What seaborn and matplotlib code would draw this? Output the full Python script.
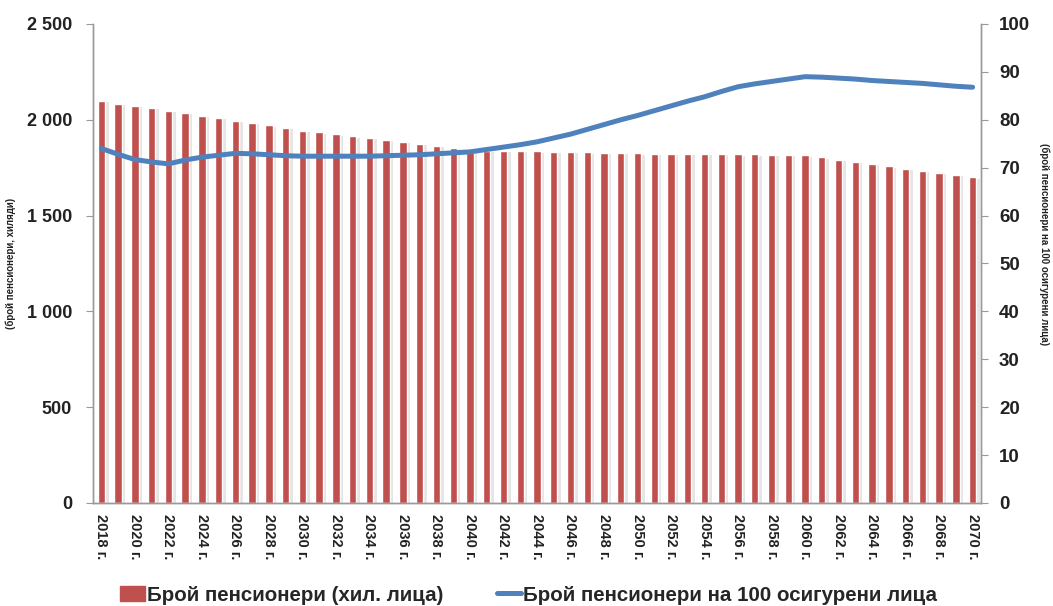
import matplotlib
matplotlib.use("Agg")
import matplotlib.pyplot as plt
import matplotlib.patheffects as pe
from matplotlib.lines import Line2D
from matplotlib.patches import Patch
import seaborn as sns
import numpy as np
import pandas as pd

years = list(range(2018, 2071))
pensioners = [2098, 2084, 2072, 2061, 2047, 2035, 2021, 2009, 1995, 1983,
              1971, 1957, 1943, 1935, 1924, 1914, 1905, 1895, 1884, 1874,
              1863, 1854, 1846, 1839, 1839, 1837, 1835, 1834, 1832, 1830,
              1828, 1827, 1826, 1824, 1824, 1822, 1822, 1822, 1820, 1819,
              1817, 1817, 1815, 1804, 1792, 1780, 1769, 1757, 1745, 1733,
              1722, 1712, 1700]
per_100_insured = [74.0, 72.8, 71.7, 71.2, 70.8, 71.6, 72.2, 72.6, 73.0, 72.9,
                   72.7, 72.5, 72.4, 72.4, 72.4, 72.4, 72.4, 72.5, 72.6, 72.7,
                   72.9, 73.1, 73.3, 73.8, 74.3, 74.8, 75.4, 76.2, 77.0, 78.0,
                   79.0, 80.0, 80.9, 81.9, 82.9, 83.9, 84.8, 85.9, 86.9, 87.5,
                   88.0, 88.5, 89.0, 88.9, 88.7, 88.5, 88.2, 88.0, 87.8, 87.6,
                   87.3, 87.0, 86.8]

bar_label = "Брой пенсионери (хил. лица)"
line_label = "Брой пенсионери на 100 осигурени лица"
left_title = "(брой пенсионери, хиляди)"
right_title = "(брой пенсионери на 100 осигурени лица)"

red = "#C0504D"
blue = "#4F81BD"
text_col = "#222222"

sns.set_style("white")
plt.rcParams["font.family"] = ["Liberation Sans", "DejaVu Sans"]

df = pd.DataFrame({"year": [f"{y} г." for y in years],
                   "pens": pensioners,
                   "ratio": per_100_insured})
df["pos"] = np.arange(len(df))

fig = plt.figure(figsize=(10.53, 6.06), dpi=100)
ax = fig.add_axes([0.0883, 0.170, 0.8433, 0.7904])

sns.barplot(data=df, x="year", y="pens", color=red, saturation=1,
            width=0.44, ax=ax)
for p in ax.patches:
    p.set_path_effects([pe.SimplePatchShadow(offset=(2.5, -1), shadow_rgbFace="#aaaaaa", alpha=0.3),
                        pe.Normal()])

ax.set_ylim(0, 2500)
ax.set_xlim(-0.5, len(df) - 0.5)
ax.set_yticks(range(0, 2501, 500))
ax.set_yticklabels([f"{v:,}".replace(",", " ") for v in range(0, 2501, 500)],
                   fontsize=13, fontweight="bold", color=text_col)
ax.set_xticks(range(0, len(df), 2))
ax.set_xticklabels(df["year"][::2], rotation=-90, fontsize=10.5,
                   fontweight="bold", color=text_col)
ax.set_xticks(np.arange(-0.5, len(df), 1), minor=True)
ax.tick_params(axis="x", which="major", length=0, pad=8)
ax.tick_params(axis="x", which="minor", length=4, color="#999999", direction="out")
ax.tick_params(axis="y", length=5, color="#999999", direction="out", pad=10, left=True)
ax.set_xlabel("")
ax.set_ylabel(left_title, fontsize=7, fontweight="bold", color=text_col)
ax.yaxis.set_label_coords(-0.087, 0.5)

ax2 = ax.twinx()
sns.lineplot(data=df, x="pos", y="ratio", color=blue, linewidth=3.6, ax=ax2)
ax2.set_ylim(0, 100)
ax2.set_xlim(-0.5, len(df) - 0.5)
ax2.set_yticks(range(0, 101, 10))
ax2.set_yticklabels([str(v) for v in range(0, 101, 10)], fontsize=13.5,
                    fontweight="bold", color=text_col)
ax2.tick_params(axis="y", length=5, color="#999999", direction="out", pad=8, right=True)
ax2.set_ylabel(right_title, fontsize=7, fontweight="bold", rotation=-90,
               color=text_col, va="center")
ax2.yaxis.set_label_coords(1.071, 0.54)
ax2.set_xlabel("")

for a in (ax, ax2):
    a.spines["top"].set_visible(False)
    for s in ("left", "right", "bottom"):
        a.spines[s].set_color("#999999")
        a.spines[s].set_linewidth(1)

handles = [Patch(facecolor=red, edgecolor=red),
           Line2D([], [], color=blue, linewidth=3.6)]
fig.legend(handles, [bar_label, line_label], loc="center", ncol=2,
           bbox_to_anchor=(0.502, 0.018), frameon=False,
           prop={"size": 14.8, "weight": "bold"}, handlelength=1.2,
           handletextpad=0.1, columnspacing=2.6)

fig.savefig("out.png", dpi=100)
